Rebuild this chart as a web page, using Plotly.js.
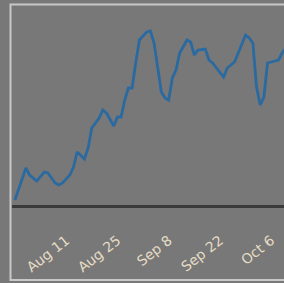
<!DOCTYPE html>
<html><head><meta charset="utf-8">
<script src="https://cdn.plot.ly/plotly-3.0.1.min.js"></script>
<style>html,body{margin:0;padding:0;background:#787878;overflow:hidden}#chart{width:284px;height:283px}</style>
</head><body><div id="chart"></div>
<script>
const dates = ["2014-07-28","2014-07-31","2014-08-01","2014-08-03","2014-08-05","2014-08-06","2014-08-08","2014-08-09","2014-08-10","2014-08-12","2014-08-13","2014-08-14","2014-08-16","2014-08-17","2014-08-18","2014-08-20","2014-08-21","2014-08-22","2014-08-24","2014-08-25","2014-08-26","2014-08-27","2014-08-28","2014-08-29","2014-08-30","2014-08-31","2014-09-02","2014-09-03","2014-09-04","2014-09-05","2014-09-06","2014-09-07","2014-09-08","2014-09-09","2014-09-10","2014-09-11","2014-09-13","2014-09-14","2014-09-15","2014-09-16","2014-09-18","2014-09-19","2014-09-20","2014-09-23","2014-09-24","2014-09-26","2014-09-27","2014-09-29","2014-09-30","2014-10-01","2014-10-02","2014-10-03","2014-10-04","2014-10-05","2014-10-06","2014-10-08","2014-10-09","2014-10-10"];
const values = [5,37,30,24,33,32,22,20,22,30,38,53,46,57,77,87,95,92,79,88,88,105,117,117,142,165,173,174,162,135,113,107,105,127,135,152,165,163,150,155,156,145,142,128,137,143,152,170,167,162,118,100,108,142,143,145,152,157];
const xRange = ["2014-07-27 04:48","2014-10-09 12:00"];
const yRange = [0,200];
const tick0 = "2014-08-11";

const trace = {x: dates, y: values, type: "scatter", mode: "lines",
  line: {color: "#2b6aa0", width: 2.8}, hoverinfo: "skip"};
const layout = {
  width: 284, height: 283,
  margin: {l: 12, r: 0, t: 5, b: 78},
  paper_bgcolor: "#787878", plot_bgcolor: "#787878",
  showlegend: false,
  xaxis: {type: "date", range: xRange, tick0: tick0, dtick: 14*86400000,
    tickformat: "%b %-d", tickangle: -38, ticks: "outside", ticklen: 19,
    tickcolor: "rgba(0,0,0,0)", showgrid: false, zeroline: false,
    showline: true, linecolor: "#3a3a3a", linewidth: 3,
    tickfont: {family: "DejaVu Sans", size: 14, color: "#e6dcc4"}},
  yaxis: {range: yRange, visible: false, showgrid: false, zeroline: false},
  shapes: [{type: "rect", xref: "paper", yref: "paper",
    x0: -0.0055, x1: 1.05, y0: -0.375, y1: 1.0025,
    line: {color: "#c8c8c8", width: 2}, fillcolor: "rgba(0,0,0,0)", layer: "below"}]
};
Plotly.newPlot("chart", [trace], layout, {staticPlot: true, displayModeBar: false});
</script></body></html>
